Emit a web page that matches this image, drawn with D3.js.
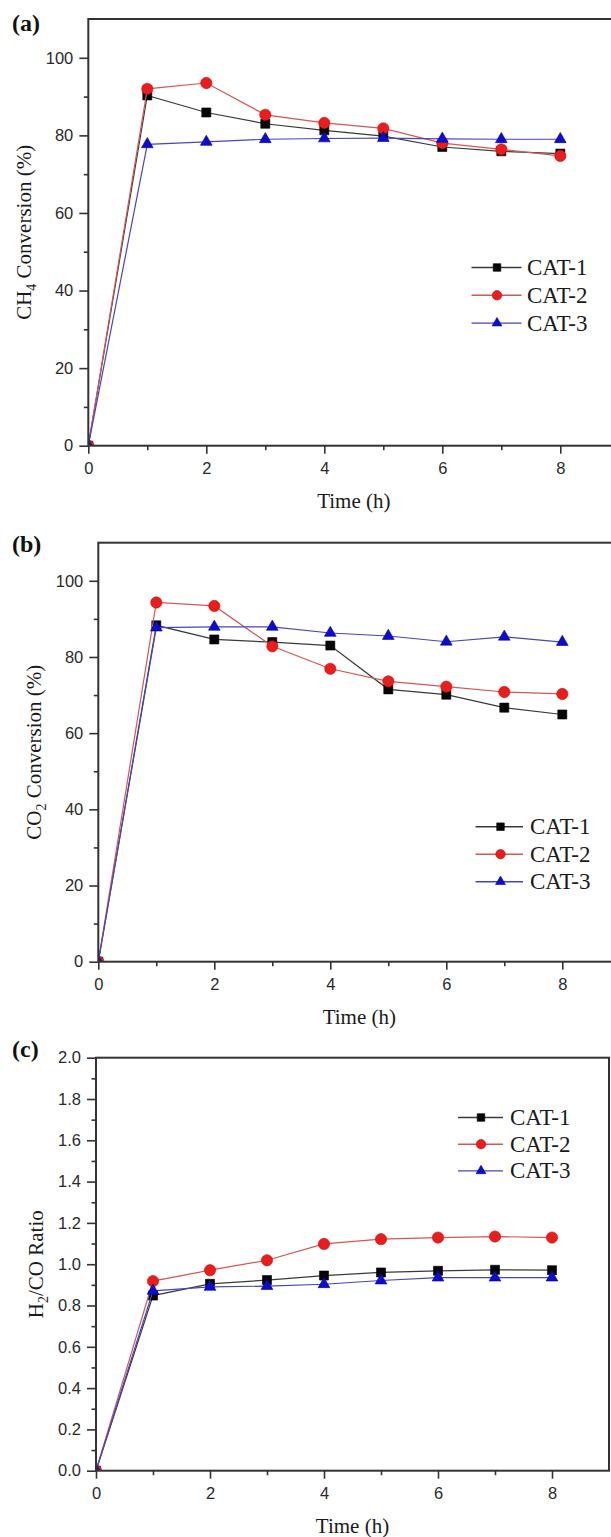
<!DOCTYPE html>
<html>
<head>
<meta charset="utf-8">
<script src="https://cdn.jsdelivr.net/npm/d3@7"></script>
<style>
  html, body { margin: 0; padding: 0; background: #fff; overflow: hidden; }
  svg { display: block; }
</style>
</head>
<body>
<svg id="fig" width="611" height="1537"></svg>
<script>
// ---- data -------------------------------------------------------------
const hours = [0, 1, 2, 3, 4, 5, 6, 7, 8];
const seriesNames = ["CAT-1", "CAT-2", "CAT-3"];

// CH4 conversion (%)
const ch4Cat1 = [0, 90.3, 85.9, 83.0, 81.3, 79.8, 77.0, 75.9, 75.3];
const ch4Cat2 = [0, 92.0, 93.5, 85.3, 83.2, 81.8, 78.0, 76.4, 74.7];
const ch4Cat3 = [0, 77.7, 78.3, 79.0, 79.2, 79.3, 79.1, 79.0, 79.0];

// CO2 conversion (%)
const co2Cat1 = [0, 88.3, 84.6, 83.9, 83.0, 71.5, 70.1, 66.7, 64.9];
const co2Cat2 = [0, 94.3, 93.4, 82.8, 76.9, 73.6, 72.2, 70.8, 70.3];
const co2Cat3 = [0, 87.7, 87.9, 87.9, 86.3, 85.5, 84.0, 85.3, 83.9];

// H2/CO ratio
const ratioCat1 = [0, 0.848, 0.905, 0.923, 0.945, 0.960, 0.968, 0.973, 0.971];
const ratioCat2 = [0, 0.918, 0.971, 1.019, 1.098, 1.121, 1.129, 1.134, 1.129];
const ratioCat3 = [0, 0.871, 0.890, 0.894, 0.903, 0.921, 0.935, 0.935, 0.935];

// axis ticks
const timeTicks = [0, 2, 4, 6, 8];
const timeMinorTicks = [1, 3, 5, 7];
const convTicks = [0, 20, 40, 60, 80, 100];
const convMinorTicks = [10, 30, 50, 70, 90];
const ratioTicks = [0, 0.2, 0.4, 0.6, 0.8, 1.0, 1.2, 1.4, 1.6, 1.8, 2.0];
const ratioMinorTicks = [0.1, 0.3, 0.5, 0.7, 0.9, 1.1, 1.3, 1.5, 1.7, 1.9];

const panelLetters = ["(a)", "(b)", "(c)"];
const timeTitle = "Time (h)";

// ---- panel descriptions -----------------------------------------------
const panels = [
  {
    letter: panelLetters[0],
    series: [ch4Cat1, ch4Cat2, ch4Cat3],
    yDomain: [0, 110], yTicks: convTicks, yMinor: convMinorTicks, yFormat: d3.format("d"),
    yTitle: [["CH", false], ["4", true], [" Conversion (%)", false]]
  },
  {
    letter: panelLetters[1],
    series: [co2Cat1, co2Cat2, co2Cat3],
    yDomain: [0, 110], yTicks: convTicks, yMinor: convMinorTicks, yFormat: d3.format("d"),
    yTitle: [["CO", false], ["2", true], [" Conversion (%)", false]]
  },
  {
    letter: panelLetters[2],
    series: [ratioCat1, ratioCat2, ratioCat3],
    yDomain: [0, 2.0], yTicks: ratioTicks, yMinor: ratioMinorTicks, yFormat: d3.format(".1f"),
    yTitle: [["H", false], ["2", true], ["/CO Ratio", false]]
  }
];

// ---- layout & styles --------------------------------------------------
const frames = [
  { left: 88.3, right: 619.3, top: 19.0,   bottom: 445.7,  titleX: 31, letterY: 31,
    legend: { x0: 471.5, x1: 521.5, mx: 497, tx: 527, y0: 267.5, step: 27.8 } },
  { left: 98.3, right: 620.3, top: 542.7,  bottom: 961.7,  titleX: 41, letterY: 552,
    legend: { x0: 475.5, x1: 523, mx: 500.5, tx: 530, y0: 826.7, step: 27.5 } },
  { left: 96.0, right: 609.0, top: 1057.7, bottom: 1470.7, titleX: 43, letterY: 1057,
    legend: { x0: 458, x1: 503, mx: 481, tx: 510, y0: 1117.5, step: 26.7 } }
];

const styles = [
  { symbol: d3.symbolSquare,   size: 82,  fill: "#050505", stroke: "#000",    line: "#3a3a3a" },
  { symbol: d3.symbolCircle,   size: 100, fill: "#ee1b1b", stroke: "#c01010", line: "#d45656" },
  { symbol: d3.symbolTriangle, size: 60,  fill: "#0b0bd6", stroke: "#05059a", line: "#4646c0" }
];

const axisColor = "#333";
const tickFont = "'Liberation Sans', Arial, sans-serif";
const serifFont = "'Liberation Serif', 'Times New Roman', serif";

const svg = d3.select("#fig");
const defs = svg.append("defs");

panels.forEach((p, pi) => {
  const f = frames[pi];
  const x = d3.scaleLinear().domain([0, 9]).range([f.left, f.right]);
  const y = d3.scaleLinear().domain(p.yDomain).range([f.bottom, f.top]);
  const g = svg.append("g").attr("class", "panel");

  // clip for plotted data
  const clipId = "clip" + pi;
  defs.append("clipPath").attr("id", clipId)
    .append("rect")
    .attr("x", f.left).attr("y", f.top)
    .attr("width", f.right - f.left).attr("height", f.bottom - f.top);

  // data lines and symbols
  const plot = g.append("g").attr("clip-path", `url(#${clipId})`);
  const line = d3.line().x((d, i) => x(hours[i])).y(d => y(d));
  p.series.forEach((vals, si) => {
    const st = styles[si];
    plot.append("path")
      .datum(vals)
      .attr("d", line)
      .attr("fill", "none")
      .attr("stroke", st.line)
      .attr("stroke-width", 1.2);
    plot.selectAll(null)
      .data(vals)
      .join("path")
      .attr("transform", (d, i) => `translate(${x(hours[i])},${y(d)})`)
      .attr("d", d3.symbol().type(st.symbol).size(st.size))
      .attr("fill", st.fill)
      .attr("stroke", st.stroke)
      .attr("stroke-width", 0.6);
  });

  // axes: major and minor ticks, outward
  const styleAxis = sel => {
    sel.select(".domain").remove();
    sel.selectAll(".tick line").attr("stroke", axisColor).attr("stroke-width", 1.6);
    sel.selectAll(".tick text")
      .attr("fill", "#2a2a2a")
      .style("font-family", tickFont)
      .style("font-size", "16.5px");
  };

  g.append("g")
    .attr("transform", `translate(0,${f.bottom})`)
    .call(d3.axisBottom(x).tickValues(timeTicks).tickSize(8).tickPadding(8.5).tickFormat(d3.format("d")))
    .call(styleAxis);
  g.append("g")
    .attr("transform", `translate(0,${f.bottom})`)
    .call(d3.axisBottom(x).tickValues(timeMinorTicks).tickSize(4.5).tickFormat(""))
    .call(styleAxis);
  g.append("g")
    .attr("transform", `translate(${f.left},0)`)
    .call(d3.axisLeft(y).tickValues(p.yTicks).tickSize(9).tickPadding(6).tickFormat(p.yFormat))
    .call(styleAxis);
  g.append("g")
    .attr("transform", `translate(${f.left},0)`)
    .call(d3.axisLeft(y).tickValues(p.yMinor).tickSize(4.5).tickFormat(""))
    .call(styleAxis);

  // frame
  g.append("rect")
    .attr("x", f.left).attr("y", f.top)
    .attr("width", f.right - f.left).attr("height", f.bottom - f.top)
    .attr("fill", "none")
    .attr("stroke", axisColor)
    .attr("stroke-width", 2);

  // x-axis title
  g.append("text")
    .attr("x", x(4.5))
    .attr("y", f.bottom + 62)
    .attr("text-anchor", "middle")
    .attr("fill", "#1a1a1a")
    .style("font-family", serifFont)
    .style("font-size", "21px")
    .text(timeTitle);

  // y-axis title with subscript
  const cy = (f.top + f.bottom) / 2;
  const yt = g.append("text")
    .attr("transform", `translate(${f.titleX},${cy}) rotate(-90)`)
    .attr("text-anchor", "middle")
    .attr("fill", "#1a1a1a")
    .style("font-family", serifFont)
    .style("font-size", "21px");
  p.yTitle.forEach(([txt, sub], k) => {
    const ts = yt.append("tspan").text(txt);
    if (sub) {
      ts.attr("dy", 5).style("font-size", "14px");
    } else if (k > 0 && p.yTitle[k - 1][1]) {
      ts.attr("dy", -5);
    }
  });

  // panel letter
  g.append("text")
    .attr("x", 12)
    .attr("y", f.letterY)
    .attr("fill", "#111")
    .style("font-family", serifFont)
    .style("font-weight", "bold")
    .style("font-size", "24px")
    .text(p.letter);

  // legend
  const L = f.legend;
  seriesNames.forEach((name, si) => {
    const st = styles[si];
    const ly = L.y0 + si * L.step;
    const lg = g.append("g");
    lg.append("line")
      .attr("x1", L.x0).attr("x2", L.x1)
      .attr("y1", ly).attr("y2", ly)
      .attr("stroke", st.line)
      .attr("stroke-width", 1.4);
    lg.append("path")
      .attr("transform", `translate(${L.mx},${ly})`)
      .attr("d", d3.symbol().type(st.symbol).size(st.size * 0.7))
      .attr("fill", st.fill)
      .attr("stroke", st.stroke)
      .attr("stroke-width", 0.6);
    lg.append("text")
      .attr("x", L.tx)
      .attr("y", ly + 7.5)
      .attr("fill", "#1a1a1a")
      .style("font-family", serifFont)
      .style("font-size", "23px")
      .text(name);
  });
});
</script>
</body>
</html>
